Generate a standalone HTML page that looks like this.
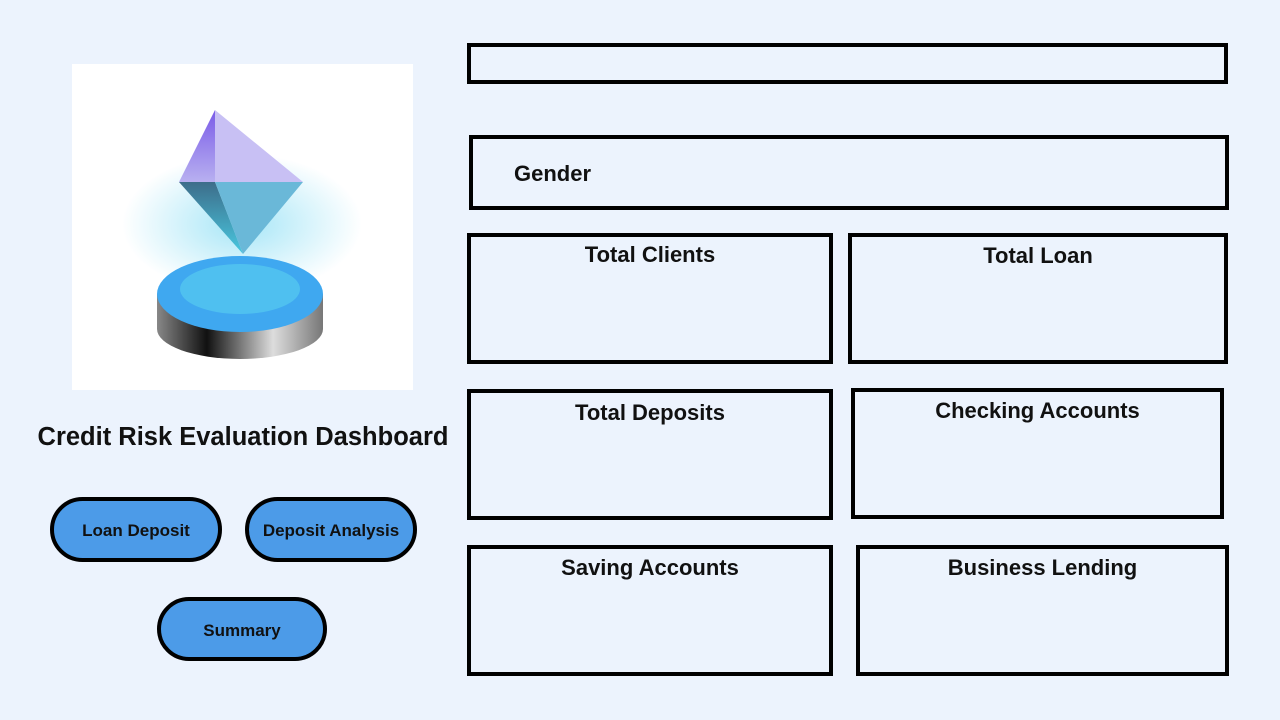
<!DOCTYPE html>
<html><head><style>
body{margin:0;width:1280px;height:720px;background:#ECF3FD;position:relative;overflow:hidden;font-family:"Liberation Sans",sans-serif}
.b{position:absolute;border:4px solid #000;box-sizing:border-box}
.t{position:absolute;left:0;right:0;text-align:center;font-weight:bold;font-size:22px;color:#111}
.btn{position:absolute;border:4px solid #000;border-radius:34px;background:#4C9BE8;box-sizing:border-box;display:flex;align-items:center;justify-content:center;font-weight:bold;font-size:17px;color:#111;padding-top:3px}
</style></head><body>
<div style="position:absolute;left:72px;top:64px;width:341px;height:326px;background:#fff">
<svg width="341" height="326" viewBox="0 0 341 326">
<defs>
<radialGradient id="g" cx="0.5" cy="0.5" r="0.5"><stop offset="0" stop-color="#5ad0f0" stop-opacity=".9"/><stop offset="1" stop-color="#5ad0f0" stop-opacity="0"/></radialGradient>
<linearGradient id="s" x1="0" x2="1"><stop offset="0" stop-color="#888"/><stop offset=".3" stop-color="#111"/><stop offset=".7" stop-color="#ddd"/><stop offset="1" stop-color="#777"/></linearGradient>
<linearGradient id="d1" x1="0" y1="0" x2="0" y2="1"><stop offset="0" stop-color="#7a5be8"/><stop offset="1" stop-color="#b8b0f0"/></linearGradient>
<linearGradient id="d2" x1="0" y1="0" x2="0" y2="1"><stop offset="0" stop-color="#3d6d8a"/><stop offset="1" stop-color="#48c8e0"/></linearGradient>
</defs>
<ellipse cx="170" cy="160" rx="120" ry="70" fill="url(#g)" opacity=".6"/>
<path d="M85 230 L85 265 A83 30 0 0 0 251 265 L251 230 Z" fill="url(#s)"/>
<ellipse cx="168" cy="230" rx="83" ry="38" fill="#3fa8f0"/>
<ellipse cx="168" cy="225" rx="60" ry="25" fill="#5ad0f0" opacity=".6"/>
<polygon points="143,46 107,118 143,118" fill="url(#d1)"/>
<polygon points="143,46 231,118 143,118" fill="#c8c0f4"/>
<polygon points="107,118 143,118 171,190" fill="url(#d2)"/>
<polygon points="143,118 231,118 171,190" fill="#6ab8d8"/>
</svg></div>
<div style="position:absolute;left:0px;width:486px;top:423px;text-align:center;font-weight:bold;font-size:25.5px;color:#111">Credit Risk Evaluation Dashboard</div>
<div class="btn" style="left:50px;top:497px;width:172px;height:65px">Loan Deposit</div>
<div class="btn" style="left:245px;top:497px;width:172px;height:65px">Deposit Analysis</div>
<div class="btn" style="left:157px;top:597px;width:170px;height:64px">Summary</div>
<div class="b" style="left:467px;top:43px;width:761px;height:41px"></div>
<div class="b" style="left:469px;top:135px;width:760px;height:75px"><div style="position:absolute;left:41px;top:22px;font-weight:bold;font-size:22px;color:#111">Gender</div></div>
<div class="b" style="left:467px;top:233px;width:366px;height:131px"><div class="t" style="top:5px">Total Clients</div></div>
<div class="b" style="left:848px;top:233px;width:380px;height:131px"><div class="t" style="top:6px">Total Loan</div></div>
<div class="b" style="left:467px;top:389px;width:366px;height:131px"><div class="t" style="top:7px">Total Deposits</div></div>
<div class="b" style="left:851px;top:388px;width:373px;height:131px"><div class="t" style="top:6px">Checking Accounts</div></div>
<div class="b" style="left:467px;top:545px;width:366px;height:131px"><div class="t" style="top:6px">Saving Accounts</div></div>
<div class="b" style="left:856px;top:545px;width:373px;height:131px"><div class="t" style="top:6px">Business Lending</div></div>
</body></html>
